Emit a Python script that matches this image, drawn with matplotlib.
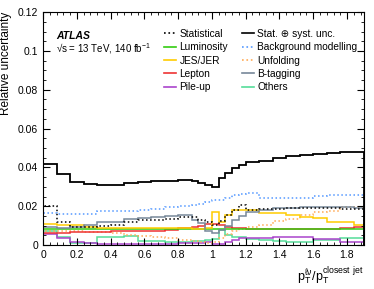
import numpy as np
import matplotlib
matplotlib.use("Agg")
import matplotlib.pyplot as plt
from matplotlib.ticker import MultipleLocator, FormatStrFormatter
from matplotlib.lines import Line2D

plt.rcParams['font.family'] = ['Liberation Sans', 'DejaVu Sans']
plt.rcParams['mathtext.fontset'] = 'custom'
plt.rcParams['mathtext.rm'] = 'Liberation Sans'
plt.rcParams['mathtext.default'] = 'regular'

# bin edges in pT(lv)/pT(closest jet)
edges = [0, 0.08, 0.16, 0.24, 0.32, 0.40, 0.48, 0.56, 0.64, 0.72, 0.80, 0.88,
         0.92, 0.96, 1.00, 1.04, 1.08, 1.12, 1.16, 1.20, 1.28, 1.36, 1.44,
         1.52, 1.60, 1.68, 1.76, 1.84, 1.90]

total = [0.042, 0.0366, 0.0325, 0.0314, 0.031, 0.031, 0.0318, 0.0325, 0.033,
         0.033, 0.0335, 0.033, 0.032, 0.031, 0.0297, 0.0345, 0.037, 0.0396,
         0.041, 0.0428, 0.0435, 0.045, 0.046, 0.0465, 0.047, 0.0475, 0.048, 0.048]
stat = [0.020, 0.0118, 0.0093, 0.0095, 0.0098, 0.0105, 0.012, 0.0128, 0.013,
        0.0135, 0.0144, 0.0145, 0.013, 0.0118, 0.0105, 0.0125, 0.0155, 0.018,
        0.0206, 0.018, 0.0185, 0.0185, 0.019, 0.019, 0.019, 0.019, 0.0188, 0.0185]
bkg = [0.0165, 0.016, 0.016, 0.016, 0.0175, 0.0175, 0.0177, 0.0183, 0.0188,
       0.0194, 0.02, 0.0205, 0.021, 0.0222, 0.023, 0.023, 0.0245, 0.0258,
       0.0262, 0.0268, 0.024, 0.024, 0.024, 0.024, 0.0255, 0.026, 0.026, 0.026]
btag = [0.0095, 0.009, 0.0095, 0.0105, 0.012, 0.012, 0.0135, 0.0142, 0.0145,
        0.015, 0.0155, 0.013, 0.0115, 0.007, 0.006, 0.008, 0.010, 0.013,
        0.015, 0.017, 0.018, 0.019, 0.019, 0.0195, 0.0195, 0.0195, 0.0195, 0.019]
jes = [0.011, 0.0105, 0.0105, 0.0095, 0.009, 0.0088, 0.0088, 0.0088, 0.0088,
       0.009, 0.0088, 0.0085, 0.0085, 0.009, 0.017, 0.012, 0.0155, 0.018,
       0.018, 0.018, 0.0165, 0.0165, 0.0155, 0.0145, 0.014, 0.012, 0.012, 0.0103]
lumi = [0.0085] * 28
lepton = [0.006, 0.0062, 0.0065, 0.0065, 0.0068, 0.007, 0.007, 0.0072, 0.0075,
          0.008, 0.0088, 0.0095, 0.0098, 0.011, 0.011, 0.0105, 0.0095, 0.009,
          0.0088, 0.0085, 0.0085, 0.0085, 0.0085, 0.0085, 0.0085, 0.0085, 0.009, 0.0095]
unfold = [0.0075, 0.0072, 0.007, 0.0068, 0.0065, 0.006, 0.0052, 0.0048, 0.0042,
          0.0035, 0.0028, 0.0022, 0.0018, 0.0012, 0.0015, 0.0035, 0.0055, 0.007,
          0.0085, 0.0095, 0.0105, 0.0125, 0.0135, 0.0155, 0.017, 0.0175, 0.0195, 0.0195]
pileup = [0.0055, 0.0035, 0.0015, 0.001, 0.0005, 0.0005, 0.0005, 0.0007, 0.0007,
          0.0008, 0.001, 0.001, 0.0012, 0.0015, 0.0005, 0.0005, 0.0015, 0.0025,
          0.0035, 0.0037, 0.0037, 0.004, 0.0042, 0.0042, 0.003, 0.003, 0.0018, 0.0017]
others = [0.007, 0.0042, 0.0012, 0.001, 0.004, 0.004, 0.0045, 0.002, 0.002,
          0.0015, 0.0015, 0.002, 0.002, 0.0025, 0.003, 0.008, 0.005, 0.004,
          0.004, 0.003, 0.0025, 0.002, 0.0015, 0.0015, 0.0025, 0.0025, 0.0035, 0.0035]

fig = plt.figure(figsize=(3.74, 2.89), dpi=100)
ax = fig.add_axes([0.115, 0.152, 0.858, 0.806])

# (label, values, colour, linestyle)
series = [
    ("Others", others, "#55dd99", "-"),
    ("Pile-up", pileup, "#aa44cc", "-"),
    ("Unfolding", unfold, "#ffaa55", ":"),
    ("Lepton", lepton, "#ee3333", "-"),
    ("Luminosity", lumi, "#33cc11", "-"),
    ("JES/JER", jes, "#ffcc00", "-"),
    ("B-tagging", btag, "#778899", "-"),
    ("Background modelling", bkg, "#5599ff", ":"),
    ("Statistical", stat, "black", ":"),
    ("Stat. \u2295 syst. unc.", total, "black", "-"),
]
for name, vals, col, ls in series:
    lw = 1.3 if name.startswith("Stat. ") else 1.1
    ax.stairs(vals, edges, color=col, linestyle=ls, linewidth=lw)

ax.set_xlim(0, 1.9)
ax.set_ylim(0, 0.12)
ax.xaxis.set_major_locator(MultipleLocator(0.2))
ax.xaxis.set_minor_locator(MultipleLocator(0.04))
ax.yaxis.set_major_locator(MultipleLocator(0.02))
ax.yaxis.set_minor_locator(MultipleLocator(0.005))
ax.xaxis.set_major_formatter(FormatStrFormatter('%g'))
ax.yaxis.set_major_formatter(FormatStrFormatter('%g'))
ax.tick_params(which='both', direction='in', top=True, right=True, labelsize=7.5)
ax.tick_params(which='major', length=5)
ax.tick_params(which='minor', length=2.5)

ax.set_ylabel("Relative uncertainty", fontsize=8.5, loc='top')
ax.set_xlabel(r"$p_{T}^{\ell\nu}/p_{T}^{closest\ jet}$", fontsize=9, loc='right')

ax.text(0.04, 0.885, "ATLAS", transform=ax.transAxes, fontsize=7.5,
        fontweight='bold', fontstyle='italic')
ax.text(0.04, 0.825, "\u221as = 13 TeV, 140 fb$^{-1}$", transform=ax.transAxes,
        fontsize=7)

order = ["Statistical", "Luminosity", "JES/JER", "Lepton", "Pile-up",
         "Stat. \u2295 syst. unc.", "Background modelling", "Unfolding",
         "B-tagging", "Others"]
lookup = {s[0]: s for s in series}
handles = [Line2D([], [], color=lookup[n][2], linestyle=lookup[n][3], linewidth=1.2)
           for n in order]
ax.legend(handles, order, ncol=2, loc='upper left', bbox_to_anchor=(0.365, 0.945),
          frameon=False, fontsize=7.3, handlelength=1.2, handletextpad=0.3,
          columnspacing=1.4, labelspacing=0.33, borderaxespad=0)

fig.savefig("out.png", dpi=100)
